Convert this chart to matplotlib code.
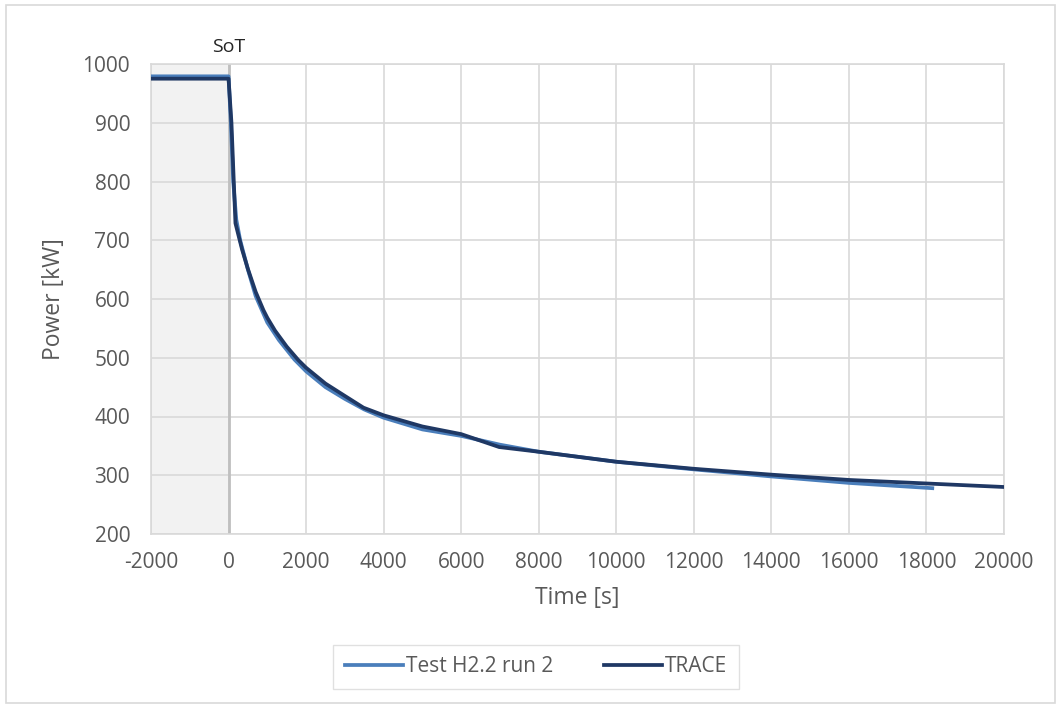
import matplotlib.pyplot as plt
from matplotlib.patches import Rectangle

plt.rcParams['font.family'] = ['Open Sans', 'DejaVu Sans']
plt.rcParams['axes.unicode_minus'] = False

# Test H2.2 run 2 (measured)
test_t = [-2000, 0, 60, 120, 200, 300, 500, 700, 1000, 1300, 1700, 2000, 2500, 3000,
          3500, 4000, 5000, 6000, 7000, 8000, 10000, 12000, 14000, 16000, 18150]
test_p = [979, 979, 900, 800, 735, 700, 650, 605, 560, 530, 497, 477, 450, 430,
          412, 398, 378, 367, 352, 340, 323, 310, 298, 287, 278]

# TRACE calculation
trace_t = [-2000, 0, 75, 135, 178, 250, 350, 500, 700, 900, 1000, 1200, 1500, 1800,
           2000, 2500, 3000, 3480, 4000, 5000, 6000, 6980, 8000, 10000, 12000,
           14000, 16000, 18000, 20000]
trace_p = [975, 975, 900, 800, 729, 710, 684, 651, 612, 581, 568, 546, 519, 496,
           483, 456, 435, 415, 402, 383, 370, 348, 340, 323, 311,
           301, 292, 286, 280]

xticks = list(range(-2000, 20001, 2000))
yticks = list(range(200, 1001, 100))

fig = plt.figure(figsize=(10.6, 7.06), dpi=100)
ax = fig.add_axes([151/1060, 1 - 534/706, (1004 - 151)/1060, (534 - 64)/706])

# zona prima dello start of transient
ax.axvspan(-2000, 0, color='#f2f2f2', zorder=0)
ax.axvline(0, color='#bfbfbf', lw=2, zorder=1)

ax.plot(test_t, test_p, color='#4a7ebb', lw=2.7, label='Test H2.2 run 2', zorder=3)
ax.plot(trace_t, trace_p, color='#1f3864', lw=2.7, label='TRACE', zorder=4)

ax.set_xlim(-2000, 20000)
ax.set_ylim(200, 1000)
ax.set_xticks(xticks)
ax.set_yticks(yticks)
ax.grid(True, color='#d9d9d9', lw=1.2, zorder=0)
ax.set_axisbelow(True)
for s in ax.spines.values():
    s.set_color('#d9d9d9')
    s.set_linewidth(1.2)
ax.tick_params(length=0, labelsize=15, labelcolor='#595959')
ax.tick_params(axis='y', pad=15)
ax.tick_params(axis='x', pad=13)

ax.set_xlabel('Time [s]', fontsize=16.5, color='#595959', labelpad=9)
ax.set_ylabel('Power [kW]', fontsize=16.5, color='#595959', labelpad=12)

ax.text(0, 1013, 'SoT', ha='center', va='bottom', fontsize=14, color='#262626')

leg = fig.legend(loc='center', bbox_to_anchor=(536/1060, 1 - 667/706), ncol=2,
                 fontsize=15, frameon=True, fancybox=False, handlelength=2.8,
                 handletextpad=0.15, columnspacing=2.4, borderpad=0.55)
leg.get_frame().set_edgecolor('#d9d9d9')
for t in leg.get_texts():
    t.set_color('#595959')

fig.patches.append(Rectangle((6/1060, 3/706), 1049/1060, 698/706, transform=fig.transFigure,
                             fill=False, edgecolor='#d9d9d9', lw=1.2))

fig.savefig('out.png', dpi=100)
